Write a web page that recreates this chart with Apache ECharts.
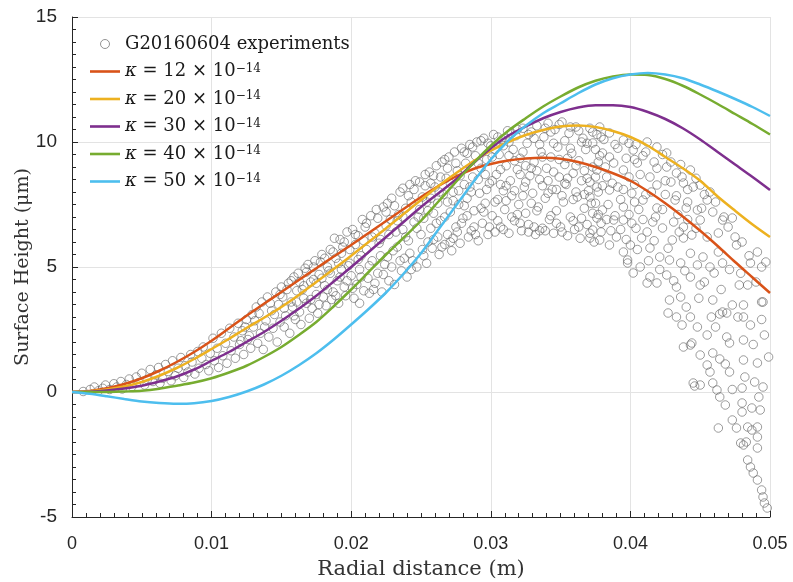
<!DOCTYPE html>
<html>
<head>
<meta charset="utf-8">
<script src="https://cdn.jsdelivr.net/npm/echarts@6/dist/echarts.min.js"></script>
<style>
html, body { margin: 0; padding: 0; background: #fff; }
#chart { width: 793px; height: 582px; }
</style>
</head>
<body>
<div id="chart"></div>
<script>
// radial positions (m) where the model curves are sampled
const radialX = [0, 0.00125, 0.0025, 0.00375, 0.005, 0.00625, 0.0075, 0.00875, 0.01, 0.01125,
  0.0125, 0.01375, 0.015, 0.01625, 0.0175, 0.01875, 0.02, 0.02125, 0.0225, 0.02375,
  0.025, 0.02625, 0.0275, 0.02875, 0.03, 0.03125, 0.0325, 0.03375, 0.035, 0.03625,
  0.0375, 0.03875, 0.04, 0.04125, 0.0425, 0.04375, 0.045, 0.04625, 0.0475, 0.04875, 0.05]

// model surface heights (um) for each kappa
const kappa12 = [0, 0.04, 0.15, 0.32, 0.55, 0.85, 1.2, 1.6, 2.05, 2.55,
  3.05, 3.53, 4.0, 4.48, 4.95, 5.42, 5.88, 6.36, 6.84, 7.32,
  7.8, 8.24, 8.62, 8.92, 9.12, 9.26, 9.34, 9.37, 9.33, 9.2,
  9.0, 8.75, 8.45, 8.03, 7.55, 7.02, 6.45, 5.84, 5.2, 4.58, 3.96]
const kappa20 = [0, 0.03, 0.1, 0.22, 0.4, 0.65, 0.96, 1.32, 1.72, 2.13,
  2.56, 2.97, 3.4, 3.88, 4.4, 4.92, 5.45, 6.0, 6.55, 7.12,
  7.68, 8.24, 8.75, 9.23, 9.65, 10.0, 10.28, 10.48, 10.62, 10.66,
  10.6, 10.44, 10.2, 9.85, 9.4, 8.95, 8.45, 7.82, 7.25, 6.7, 6.2]
const kappa30 = [0, 0.01, 0.06, 0.14, 0.25, 0.42, 0.62, 0.9, 1.25, 1.6,
  2.0, 2.4, 2.85, 3.33, 3.85, 4.42, 5.0, 5.6, 6.2, 6.8,
  7.4, 7.95, 8.5, 9.15, 9.75, 10.25, 10.62, 10.95, 11.2, 11.38,
  11.47, 11.47, 11.4, 11.2, 10.92, 10.55, 10.1, 9.6, 9.1, 8.6, 8.08]
const kappa40 = [0, 0.0, 0.0, 0.02, 0.05, 0.13, 0.25, 0.38, 0.55, 0.78,
  1.05, 1.4, 1.8, 2.28, 2.8, 3.43, 4.1, 4.8, 5.5, 6.17,
  6.85, 7.62, 8.4, 9.15, 9.85, 10.45, 10.95, 11.42, 11.82, 12.18,
  12.45, 12.62, 12.7, 12.68, 12.52, 12.25, 11.9, 11.52, 11.12, 10.72, 10.3]
const kappa50 = [0, -0.07, -0.17, -0.28, -0.38, -0.44, -0.47, -0.45, -0.36, -0.2,
  0.02, 0.3, 0.65, 1.07, 1.55, 2.1, 2.7, 3.32, 3.98, 4.73,
  5.55, 6.5, 7.45, 8.4, 9.3, 10.05, 10.65, 11.15, 11.55, 11.95,
  12.3, 12.55, 12.7, 12.76, 12.7, 12.55, 12.3, 12.02, 11.72, 11.4, 11.04]

const kappaValues = ['12', '20', '30', '40', '50']
const kappaColors = ['#D95319', '#EDB120', '#7E2F8E', '#77AC30', '#4DBEEE']
const expName = 'G20160604 experiments'

// measured profile points [r (m), height (um)]
const experiments = [
  [0.0008,0.02],[0.0013,0.1],[0.0016,0.2],[0.0019,0.05],[0.0022,0.15],[0.0024,0.28],[0.0027,0.1],[0.0030,0.33],
  [0.0032,0.2],[0.0035,0.42],[0.0036,0.12],[0.0039,0.3],[0.0041,0.52],[0.0043,0.22],[0.0046,0.6],[0.0048,0.38],
  [0.0050,0.75],[0.0052,0.28],[0.0054,0.5],[0.0056,0.9],[0.0058,0.42],[0.0060,0.68],[0.0062,0.98],[0.0063,0.35],
  [0.0065,0.55],[0.0067,1.1],[0.0069,0.82],[0.0071,0.45],[0.0072,1.25],[0.0074,0.65],[0.0076,0.95],[0.0078,1.38],
  [0.0080,0.58],[0.0081,1.05],[0.0083,0.8],[0.0085,1.5],[0.0086,1.2],[0.0088,0.72],[0.0090,1.62],[0.0091,0.95],
  [0.0093,1.35],[0.0094,1.8],[0.0096,1.1],[0.0098,0.85],[0.0099,1.55],[0.0101,2.15],[0.0102,1.25],[0.0104,1.75],
  [0.0105,0.98],[0.0107,2.35],[0.0108,1.45],[0.0110,1.95],[0.0111,1.15],[0.0113,2.55],[0.0114,1.65],[0.0116,2.2],
  [0.0117,1.35],[0.0119,2.75],[0.0120,1.9],[0.0122,2.45],[0.0123,1.5],[0.0125,2.9],[0.0126,2.1],[0.0128,1.75],
  [0.0129,3.1],[0.0130,2.6],[0.0132,3.4],[0.0133,1.95],[0.0135,2.35],[0.0136,3.6],[0.0137,1.7],[0.0139,2.85],
  [0.0140,3.8],[0.0141,2.2],[0.0143,3.25],[0.0144,2.55],[0.0146,4.0],[0.0147,2.0],[0.0148,3.5],[0.0149,2.8],
  [0.0150,4.2],[0.0151,3.8],[0.0152,2.6],[0.0153,3.05],[0.0155,4.35],[0.0156,2.35],[0.0157,3.6],[0.0158,3.4],
  [0.0159,4.6],[0.0160,2.9],[0.0161,4.05],[0.0162,4.75],[0.0163,3.2],[0.0164,2.7],[0.0165,4.1],[0.0166,3.75],
  [0.0167,4.95],[0.0168,3.55],[0.0169,5.1],[0.0170,2.95],[0.0171,4.4],[0.0172,3.35],[0.0173,4.5],[0.0174,5.25],
  [0.0175,3.9],[0.0176,3.15],[0.0177,4.7],[0.0178,5.2],[0.0179,5.5],[0.0180,3.8],[0.0181,4.25],[0.0182,3.45],
  [0.0183,5.0],[0.0184,4.85],[0.0185,5.7],[0.0186,3.7],[0.0187,4.0],[0.0188,6.15],[0.0189,5.35],[0.0190,4.45],
  [0.0191,3.55],[0.0192,6.1],[0.0192,4.6],[0.0193,5.55],[0.0194,5.8],[0.0195,4.2],[0.0196,3.85],[0.0197,6.4],
  [0.0198,5.05],[0.0199,5.15],[0.0200,4.65],[0.0201,6.5],[0.0202,3.75],[0.0203,5.9],[0.0204,4.3],[0.0205,6.25],
  [0.0206,4.9],[0.0206,3.55],[0.0207,5.45],[0.0208,6.9],[0.0209,4.05],[0.0210,6.6],[0.0211,5.7],[0.0212,4.55],
  [0.0213,3.95],[0.0214,7.05],[0.0215,5.25],[0.0216,4.1],[0.0217,6.35],[0.0218,7.3],[0.0219,4.75],[0.0220,5.95],
  [0.0221,6.1],[0.0222,4.0],[0.0223,7.4],[0.0224,5.1],[0.0225,6.65],[0.0226,7.55],[0.0226,5.4],[0.0227,4.45],
  [0.0228,6.9],[0.0229,7.75],[0.0230,5.65],[0.0231,4.3],[0.0232,6.4],[0.0233,5.8],[0.0234,7.1],[0.0235,8.0],
  [0.0236,4.85],[0.0237,6.5],[0.0237,8.15],[0.0238,5.35],[0.0239,7.35],[0.0240,4.6],[0.0241,6.05],[0.0242,8.3],
  [0.0242,5.55],[0.0243,7.6],[0.0244,5.25],[0.0245,6.8],[0.0246,8.45],[0.0247,5.0],[0.0248,7.0],[0.0249,8.4],
  [0.0250,6.3],[0.0251,7.8],[0.0252,5.45],[0.0253,8.7],[0.0254,5.15],[0.0255,7.25],[0.0256,8.8],[0.0257,6.55],
  [0.0258,5.75],[0.0259,6.1],[0.0260,8.2],[0.0261,9.05],[0.0262,7.55],[0.0263,5.5],[0.0264,6.85],[0.0265,9.2],
  [0.0266,7.9],[0.0267,5.9],[0.0268,8.55],[0.0269,6.3],[0.0270,9.4],[0.0271,7.2],[0.0272,5.65],[0.0273,8.0],
  [0.0274,9.6],[0.0275,6.6],[0.0276,8.85],[0.0277,7.5],[0.0278,5.95],[0.0279,9.75],[0.0280,6.95],[0.0281,8.3],
  [0.0282,9.15],[0.0283,7.75],[0.0284,6.2],[0.0285,9.9],[0.0286,6.45],[0.0287,8.6],[0.0288,7.25],[0.0289,9.45],
  [0.0290,10.0],[0.0291,6.05],[0.0292,7.95],[0.0293,8.95],[0.0294,6.75],[0.0295,10.15],[0.0296,7.55],[0.0297,9.3],
  [0.0298,6.3],[0.0299,8.35],[0.0300,9.85],[0.0301,7.05],[0.0302,10.3],[0.0303,6.4],[0.0304,8.7],[0.0305,7.7],
  [0.0306,9.5],[0.0307,6.6],[0.0308,10.1],[0.0309,8.05],[0.0310,7.3],[0.0311,9.05],[0.0312,10.45],[0.0313,6.35],
  [0.0314,8.45],[0.0315,7.85],[0.0316,9.7],[0.0317,6.85],[0.0318,10.25],[0.0319,8.9],[0.0320,7.5],[0.0321,9.35],
  [0.0322,6.45],[0.0323,10.55],[0.0324,8.2],[0.0325,7.15],[0.0326,9.95],[0.0327,6.7],[0.0328,8.65],[0.0329,10.4],
  [0.0330,7.95],[0.0331,9.2],[0.0332,6.3],[0.0333,10.65],[0.0334,7.4],[0.0335,8.5],[0.0336,9.6],[0.0337,6.55],
  [0.0338,10.2],[0.0339,7.75],[0.0340,8.95],[0.0341,10.75],[0.0342,6.9],[0.0343,9.4],[0.0344,8.1],[0.0345,6.35],
  [0.0346,10.5],[0.0347,7.25],[0.0348,9.8],[0.0349,8.6],[0.0350,6.6],[0.0351,10.8],[0.0352,7.6],[0.0353,9.1],
  [0.0354,8.3],[0.0355,6.25],[0.0356,10.35],[0.0357,7.0],[0.0358,9.55],[0.0359,8.75],[0.0360,6.5],[0.0361,10.6],
  [0.0362,7.8],[0.0363,9.25],[0.0364,6.15],[0.0365,8.45],[0.0366,10.15],[0.0367,7.35],[0.0368,9.7],[0.0369,6.7],
  [0.0370,8.05],[0.0371,10.55],[0.0372,7.55],[0.0373,9.0],[0.0374,6.0],[0.0375,8.6],[0.0376,10.3],[0.0377,7.1],
  [0.0378,9.45],[0.0379,6.4],[0.0380,8.25],
  [0.0252,6.95],[0.0254,7.6],[0.0257,8.35],[0.0259,7.15],[0.0262,6.2],[0.0264,8.6],[0.0267,7.0],[0.0269,8.95],
  [0.0271,6.0],[0.0273,7.65],[0.0276,6.4],[0.0278,8.65],[0.0281,7.45],[0.0283,9.55],[0.0286,8.0],[0.0288,6.6],
  [0.0291,9.15],[0.0293,7.35],[0.0296,8.7],[0.0298,9.95],[0.0301,8.45],[0.0303,9.7],[0.0305,6.85],[0.0307,8.3],
  [0.0309,9.85],[0.0311,7.65],[0.0313,9.45],[0.0315,10.35],[0.0317,8.05],[0.0319,7.1],[0.0321,8.7],[0.0323,9.6],
  [0.0325,8.4],[0.0327,10.3],[0.0329,7.55],[0.0331,6.6],[0.0333,8.85],[0.0335,9.9],[0.0337,8.25],[0.0339,6.45],
  [0.0341,7.95],[0.0343,10.4],[0.0345,8.8],[0.0347,6.75],[0.0349,9.3],[0.0351,7.85],[0.0353,10.05],[0.0355,8.55],
  [0.0357,9.75],[0.0359,6.85],[0.0361,8.0],[0.0363,10.45],[0.0365,6.95],[0.0367,8.85],[0.0369,9.95],[0.0371,8.4],
  [0.0373,7.15],[0.0375,9.7],[0.0377,8.0],[0.0379,10.2],[0.0382,9.0],[0.0384,7.5],[0.0386,6.45],[0.0389,9.9],
  [0.0391,8.2],[0.0393,7.7],[0.0397,9.35],[0.0399,8.6],[0.0401,6.75],[0.0403,7.6],
  [0.0376,8.2],[0.0385,8.08],[0.0395,8.88],[0.0405,9.16],[0.0414,8.6],[0.0419,8.28],[0.0426,9.0],[0.0433,8.76],
  [0.0438,8.36],[0.0443,8.88],[0.0419,9.8],[0.0426,9.56],[0.0412,10.0],[0.0402,9.68],[0.0395,10.08],[0.0385,10.36],
  [0.0378,10.6],[0.0373,9.96],[0.0380,9.56],[0.0388,9.16],[0.0376,8.88],[0.0383,8.6],[0.0371,7.8],[0.0380,7.28],
  [0.0388,6.88],[0.0376,6.96],[0.0373,6.48],[0.0371,6.16],[0.0378,6.08],[0.0385,5.88],[0.0390,6.2],[0.0400,5.88],
  [0.0395,5.6],[0.0395,6.88],[0.0395,7.4],[0.0398,5.16],[0.0402,4.76],[0.0407,5.0],[0.0414,4.6],[0.0419,4.36],
  [0.0426,4.68],[0.0433,4.2],[0.0436,3.8],[0.0428,3.68],[0.0440,3.4],[0.0443,3.0],[0.0421,5.4],[0.0428,5.28],
  [0.0414,5.76],[0.0408,6.16],[0.0416,6.8],[0.0423,6.56],[0.0419,7.36],[0.0409,7.68],[0.0432,7.68],[0.0440,7.36],
  [0.0448,7.28],[0.0450,6.88],[0.0431,6.8],[0.0438,6.6],[0.0430,6.08],[0.0438,6.16],[0.0444,6.28],[0.0436,5.16],
  [0.0452,5.4],[0.0448,5.08],[0.0460,4.76],[0.0466,5.16],[0.0443,4.6],[0.0450,4.28],[0.0459,3.68],[0.0466,3.2],
  [0.0450,8.28],[0.0457,8.0],[0.0455,7.68],[0.0461,7.6],[0.0466,6.88],[0.0473,6.96],[0.0463,6.36],[0.0470,6.6],
  [0.0476,5.88],[0.0480,6.0],[0.0491,5.6],[0.0486,5.16],[0.0494,5.0],[0.0478,4.28],[0.0484,4.28],[0.0495,3.6],
  [0.0481,3.48],
  [0.0404,9.9],[0.0409,9.45],[0.0417,9.2],[0.0423,9.5],[0.0429,8.4],[0.0436,9.1],[0.0441,8.1],[0.0447,8.55],
  [0.0453,7.9],[0.0403,8.3],[0.0411,7.9],[0.0418,7.0],[0.0425,7.9],[0.0434,7.1],[0.0441,6.9],[0.0404,6.55],
  [0.0412,6.4],[0.0399,7.1],[0.0406,7.3],
  [0.0427,3.16],[0.0433,3.0],[0.0437,2.68],[0.0438,1.8],[0.0444,1.96],[0.0450,1.48],[0.0446,0.24],[0.0450,0.28],
  [0.0455,1.08],[0.0457,0.8],[0.0459,0.36],[0.0462,0.08],[0.0464,-0.2],[0.0468,-0.52],[0.0463,-1.44],[0.0459,1.56],
  [0.0464,1.32],[0.0468,1.12],[0.0471,0.8],[0.0473,-1.12],[0.0476,-1.44],[0.0480,0.16],[0.0480,-0.44],[0.0480,-0.8],
  [0.0481,-2.12],[0.0483,-2.0],[0.0484,-1.4],[0.0487,-1.52],[0.0491,-1.4],[0.0491,-1.8],[0.0491,-2.24],[0.0484,-2.72],
  [0.0486,-3.0],[0.0488,-3.24],[0.0491,-3.52],[0.0494,-3.92],[0.0495,-4.2],[0.0496,-4.44],[0.0498,-4.64],[0.0489,0.4],
  [0.0495,0.2],[0.0487,-0.64],[0.0493,-0.72],[0.0491,1.16],[0.0481,1.28],[0.0471,1.96],[0.0481,2.08],[0.0486,2.68],
  [0.0481,3.0],[0.0496,2.28],[0.0473,3.48],[0.0494,3.6],[0.0458,3.0],[0.0464,3.12],[0.0469,3.16],[0.0448,2.6],
  [0.0455,2.28],[0.0443,1.88],[0.0398,5.28],[0.0412,4.36],[0.0445,0.36],[0.0479,-2.04],
  [0.0121,2.05],[0.0124,2.6],[0.0127,2.25],[0.0131,2.85],[0.0134,3.15],[0.0138,2.6],[0.0142,3.55],[0.0145,3.1],
  [0.0149,3.9],[0.0152,3.35],[0.0154,4.1],[0.0157,4.45],[0.0159,3.05],[0.0161,3.6],[0.0163,4.4],[0.0166,4.25],
  [0.0168,4.8],[0.0171,3.7],[0.0173,5.0],[0.0175,4.35],[0.0177,3.5],[0.0179,4.55],[0.0181,5.35],[0.0183,4.1],
  [0.0185,4.75],[0.0187,5.6],[0.0189,3.85],[0.0191,5.15],[0.0193,4.9],[0.0195,6.0],[0.0197,4.45],[0.0199,5.7],
  [0.0201,4.15],[0.0203,6.3],[0.0205,5.3],[0.0207,4.6],[0.0209,6.05],[0.0211,6.75],[0.0213,5.05],[0.0215,6.2],
  [0.0217,4.35],[0.0219,6.95],[0.0221,5.45],[0.0223,4.7],[0.0225,7.2],[0.0227,6.3],[0.0229,5.0],[0.0231,7.45],
  [0.0233,6.85],[0.0235,5.25],[0.0237,7.0],[0.0239,6.2],[0.0241,7.85],[0.0243,4.9],[0.0245,8.1],[0.0247,6.55],
  [0.0249,7.3],[0.0251,5.7],[0.0253,8.25],[0.0255,6.0],[0.0257,7.75],[0.0259,8.65],[0.0261,6.75],[0.0263,8.0],
  [0.0265,5.8],[0.0267,9.3],[0.0269,7.6],[0.0271,8.35],[0.0273,6.15],[0.0275,9.15],[0.0277,8.05],[0.0279,6.75],
  [0.0281,9.6],[0.0283,7.05],[0.0285,8.2],[0.0287,9.8],[0.0289,6.3],[0.0291,8.5],[0.0293,10.05],[0.0295,7.2],
  [0.0297,8.1],[0.0299,6.6],[0.0301,9.4],[0.0303,7.6],[0.0305,10.2],[0.0307,8.9],[0.0309,6.5],[0.0311,8.25],
  [0.0313,10.0],[0.0315,7.0],[0.0317,9.25],[0.0319,10.5],[0.0321,6.75],[0.0323,7.85],[0.0325,9.05],[0.0327,6.4],
  [0.0329,8.95],[0.0331,10.15],[0.0333,7.25],[0.0335,6.45],[0.0337,9.4],[0.0339,10.55],[0.0341,8.45],[0.0343,7.05],
  [0.0345,9.95],[0.0347,8.1],[0.0349,10.7],[0.0351,6.4],[0.0353,8.35],[0.0355,9.35],[0.0357,10.6],[0.0359,7.7],
  [0.0361,9.05],[0.0363,6.6],[0.0365,10.0],[0.0367,7.9],[0.0369,8.55],[0.0371,6.35],[0.0373,10.4],[0.0375,7.55],
  [0.0377,9.2],[0.0379,6.75],[0.0381,10.1],[0.0383,6.9],[0.0385,9.4],[0.0387,8.35],[0.0389,7.05],[0.0391,9.75],
  [0.0393,6.5],[0.0395,8.1],[0.0397,6.1],[0.0399,9.95],[0.0401,7.95],[0.0403,9.3],[0.0405,5.7],[0.0407,8.7],
  [0.0409,6.9],[0.0411,9.6],[0.0413,5.25],[0.0415,8.0],[0.0417,6.05],[0.0419,8.95],[0.0421,4.9],[0.0423,7.3],
  [0.0425,8.45],[0.0427,5.75],[0.0429,9.2],[0.0431,4.45],[0.0433,7.85],[0.0435,6.4],[0.0437,8.6],[0.0439,4.85],
  [0.0441,7.6],[0.0443,5.55],[0.0445,8.2],[0.0447,6.55],[0.0449,3.75],[0.0451,7.35],[0.0453,4.4],[0.0455,6.2],
  [0.0457,5.0],[0.0459,7.2],[0.0461,2.6],[0.0463,5.6],[0.0465,4.1],[0.0467,7.0],[0.0469,2.2],[0.0471,4.9],
  [0.0473,0.1],[0.0475,6.2],[0.0477,3.0],[0.0479,4.75],[0.0482,0.6],[0.0485,5.45],[0.0488,1.9],[0.0490,4.4],
  [0.0492,-0.2],[0.0494,2.9],[0.0497,5.2],[0.0499,1.4]
]

const kappaSeries = [kappa12, kappa20, kappa30, kappa40, kappa50]

let chart = null

const serif = 'DejaVu Serif'
const legendRich = {
  t: { fontFamily: serif, fontSize: 18, color: '#1a1a1a' },
  i: { fontFamily: serif, fontSize: 18, fontStyle: 'italic', color: '#1a1a1a' },
  s: { fontFamily: serif, fontSize: 12, color: '#1a1a1a', verticalAlign: 'top' }
}

const initChart = () => {
  chart = echarts.init(document.getElementById('chart'))

  const lines = kappaSeries.map((ys, i) => ({
    name: 'k' + kappaValues[i],
    type: 'line',
    smooth: 0.3,
    symbol: 'none',
    z: 3,
    lineStyle: { width: 2.5, color: kappaColors[i] },
    itemStyle: { color: kappaColors[i] },
    data: radialX.map((x, j) => [x, ys[j]])
  }))

  chart.setOption({
    animation: false,
    grid: { left: 72, right: 23, top: 17, bottom: 65, outerBoundsMode: 'none' },
    legend: {
      orient: 'vertical',
      left: 90,
      top: 35,
      padding: 0,
      itemGap: 9.5,
      itemWidth: 30,
      itemHeight: 9,
      data: [
        { name: expName, icon: 'circle', itemStyle: { color: 'transparent', borderColor: '#777', borderWidth: 1 } }
      ].concat(kappaValues.map((k, i) => ({
        name: 'k' + k,
        icon: 'path://M0 0H30V2.6H0Z',
        itemStyle: { color: kappaColors[i] }
      }))),
      formatter(name) {
        if (name === expName) {
          return '{t|' + name + '}'
        }
        return '{i|κ}{t| = ' + name.slice(1) + ' × 10}{s|−14}'
      },
      textStyle: { rich: legendRich }
    },
    xAxis: {
      type: 'value',
      min: 0,
      max: 0.05,
      interval: 0.01,
      name: 'Radial distance (m)',
      nameLocation: 'middle',
      nameGap: 42,
      nameMoveOverlap: false,
      nameTextStyle: { fontFamily: serif, fontSize: 21, color: '#333' },
      axisLine: { onZero: false, lineStyle: { color: '#262626', width: 1 } },
      axisTick: { inside: true, length: 6, lineStyle: { color: '#262626' } },
      minorTick: { show: true, splitNumber: 10, length: 4, lineStyle: { color: '#262626' } },
      splitLine: { show: true, lineStyle: { color: '#e3e3e3' } },
      axisLabel: {
        fontFamily: 'Liberation Sans',
        fontSize: 18,
        color: '#262626',
        margin: 18,
        formatter: v => String(+v.toFixed(3))
      }
    },
    yAxis: {
      type: 'value',
      min: -5,
      max: 15,
      interval: 5,
      name: 'Surface Height (μm)',
      nameLocation: 'middle',
      nameGap: 39,
      nameMoveOverlap: false,
      nameTextStyle: { fontFamily: serif, fontSize: 19, color: '#333' },
      axisLine: { show: true, onZero: false, lineStyle: { color: '#262626', width: 1 } },
      axisTick: { show: true, inside: true, length: 6, lineStyle: { color: '#262626' } },
      minorTick: { show: true, splitNumber: 10, length: 4, lineStyle: { color: '#262626' } },
      splitLine: { show: true, lineStyle: { color: '#e3e3e3' } },
      axisLabel: {
        fontFamily: 'Liberation Sans',
        fontSize: 19,
        color: '#262626',
        margin: 15
      }
    },
    series: [
      {
        name: expName,
        type: 'scatter',
        symbol: 'circle',
        symbolSize: 8.5,
        z: 2,
        itemStyle: { color: 'transparent', borderColor: 'rgba(100,100,100,0.8)', borderWidth: 1 },
        data: experiments
      }
    ].concat(lines)
  })
}

initChart()
</script>
</body>
</html>
